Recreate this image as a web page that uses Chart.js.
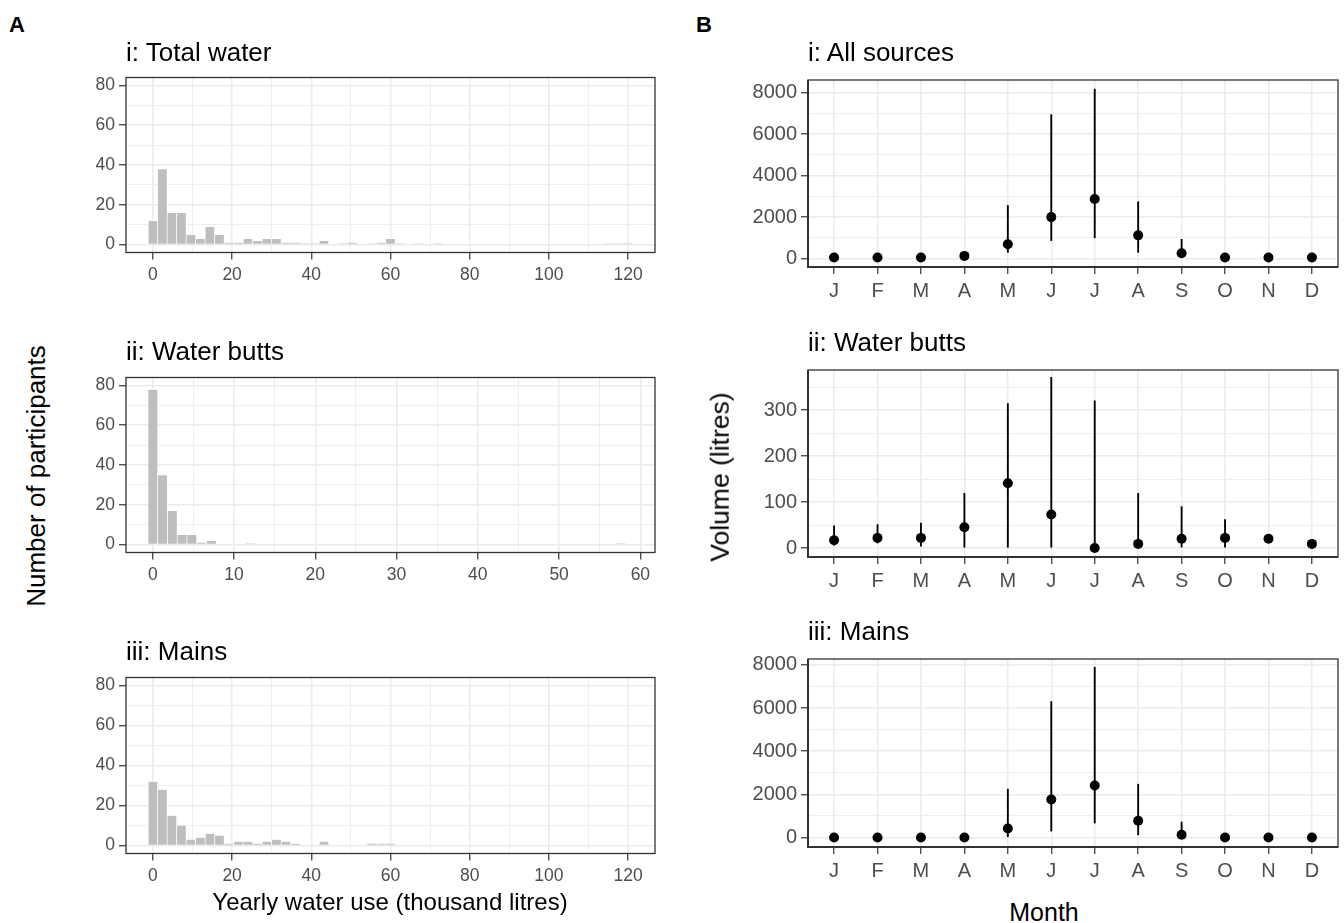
<!DOCTYPE html>
<html>
<head>
<meta charset="utf-8">
<script src="https://cdn.jsdelivr.net/npm/chart.js@4.4.1/dist/chart.umd.min.js"></script>
<style>
    body { margin: 0; background: #fff; font-family: 'Liberation Sans', Arial, sans-serif; }
    #page { position: relative; width: 1344px; height: 923px; overflow: hidden; }
    canvas { position: absolute; }
    .txt { position: absolute; white-space: nowrap; line-height: 1; color: #000; }
    .tag { font-size: 22px; font-weight: bold; }
    .ttl { font-size: 26px; }
</style>
</head>
<body>
<div id="page">
    <canvas id="aTotal" width="605" height="225" style="left:60px;top:67px"></canvas>
    <canvas id="aButts" width="605" height="225" style="left:60px;top:367px"></canvas>
    <canvas id="aMains" width="605" height="225" style="left:60px;top:667px"></canvas>
    <canvas id="bAll" width="616" height="237" style="left:728px;top:70px"></canvas>
    <canvas id="bButts" width="616" height="237" style="left:728px;top:360px"></canvas>
    <canvas id="bMains" width="616" height="237" style="left:728px;top:649px"></canvas>

    <div class="txt tag" style="left:9px;top:14px">A</div>
    <div class="txt tag" style="left:696px;top:14px">B</div>
    <div class="txt ttl" style="left:126px;top:39px">i: Total water</div>
    <div class="txt ttl" style="left:126px;top:338px">ii: Water butts</div>
    <div class="txt ttl" style="left:126px;top:638px">iii: Mains</div>
    <div class="txt ttl" style="left:808px;top:39px">i: All sources</div>
    <div class="txt ttl" style="left:808px;top:329px">ii: Water butts</div>
    <div class="txt ttl" style="left:808px;top:618px">iii: Mains</div>
    <div class="txt" style="font-size:24px;left:390px;top:890px;transform:translateX(-50%)">Yearly water use (thousand litres)</div>
    <div class="txt" style="font-size:26px;left:36px;top:476px;transform:translate(-50%,-50%) rotate(-90deg)">Number of participants</div>
    <div class="txt" style="font-size:26.5px;left:720px;top:477px;transform:translate(-50%,-50%) rotate(-90deg)">Volume (litres)</div>
    <div class="txt" style="font-size:25px;left:1044px;top:900px;transform:translateX(-50%)">Month</div>
</div>
<script>
// Histogram counts per bin (A panels), bins start at 0
const totalBinWidth = 2.4;
const totalCounts = [12, 38, 16, 16, 5, 3, 9, 5, 1, 1, 3, 2, 3, 3, 1, 1, 0.5, 0.5, 2, 0,
    0.5, 1, 0, 0.5, 1, 3, 0.5, 0, 0.5, 0, 0.5, 0, 0, 0, 0, 0, 0, 0, 0, 0,
    0, 0, 0, 0, 0, 0, 0, 0, 0.5, 0.5, 0.5];
const buttsBinWidth = 1.2;
const buttsCounts = [78, 35, 17, 5, 5, 1, 2, 0, 0, 0, 0.5, 0, 0, 0, 0, 0, 0, 0, 0, 0,
    0, 0, 0, 0, 0, 0, 0, 0, 0, 0, 0, 0, 0, 0, 0, 0, 0, 0, 0, 0,
    0, 0, 0, 0, 0, 0, 0, 0, 0.5, 0, 0];
const mainsBinWidth = 2.4;
const mainsCounts = [32, 28, 15, 10, 3, 4, 6, 5, 1, 2, 2, 1, 2, 3, 2, 1, 0, 0, 2, 0,
    0, 0, 0, 1, 1, 1, 0, 0, 0, 0, 0, 0, 0, 0, 0, 0, 0, 0, 0, 0,
    0, 0, 0, 0, 0, 0, 0, 0, 0, 0, 0];

// Monthly volumes (B panels): point plus low/high of the interval
const months = ['J', 'F', 'M', 'A', 'M', 'J', 'J', 'A', 'S', 'O', 'N', 'D'];
const allMid = [50, 50, 50, 130, 690, 2000, 2870, 1120, 260, 50, 50, 50];
const allLow = [10, 10, 10, 40, 300, 870, 1000, 300, 100, 10, 10, 10];
const allHigh = [120, 110, 110, 260, 2560, 6940, 8170, 2740, 930, 110, 110, 110];
const buttsMid = [17, 22, 22, 45, 141, 73, 0, 9, 20, 22, 20, 9];
const buttsLow = [6, 11, 4, 0, 0, 0, 0, 0, 2, 0, 12, 4];
const buttsHigh = [48, 51, 54, 119, 314, 371, 320, 119, 90, 62, 28, 14];
const mainsMid = [0, 0, 0, 0, 420, 1760, 2410, 780, 125, 0, 0, 0];
const mainsLow = [0, 0, 0, 0, 0, 300, 670, 125, 20, 0, 0, 0];
const mainsHigh = [20, 20, 20, 20, 2240, 6300, 7890, 2470, 715, 20, 20, 20];

// Axis tick lists
const histYTicks = [0, 10, 20, 30, 40, 50, 60, 70, 80];
const wideXTicks = [0, 10, 20, 30, 40, 50, 60, 70, 80, 90, 100, 110, 120];
const narrowXTicks = [0, 5, 10, 15, 20, 25, 30, 35, 40, 45, 50, 55, 60];
const litreTicks = [0, 1000, 2000, 3000, 4000, 5000, 6000, 7000, 8000];
const buttLitreTicks = [0, 50, 100, 150, 200, 250, 300, 350];

Chart.defaults.font.family = "'Liberation Sans', Arial, sans-serif";
Chart.defaults.color = '#4D4D4D';
Chart.defaults.animation = false;

// ggplot style panel border (heavier left/bottom axis lines when asked)
function framePlugin(axisWidth) {
    return {
        id: 'frame',
        afterDraw(chart) {
            const a = chart.chartArea;
            const ctx = chart.ctx;
            ctx.save();
            ctx.strokeStyle = '#333333';
            ctx.lineWidth = 1.3;
            ctx.strokeRect(a.left, a.top, a.right - a.left, a.bottom - a.top);
            if (axisWidth) {
                ctx.lineWidth = axisWidth;
                ctx.beginPath();
                ctx.moveTo(a.left, a.top);
                ctx.lineTo(a.left, a.bottom);
                ctx.lineTo(a.right, a.bottom);
                ctx.stroke();
            }
            ctx.restore();
        }
    };
}

// major/minor grid styled axis
function gridAxis(min, max, ticks, majorStep, labelFn, fontSize, fixedSize, horizontal) {
    let isMajor = v => Math.abs(v / majorStep - Math.round(v / majorStep)) < 1e-6;
    return {
        type: 'linear',
        min: min,
        max: max,
        offset: false,
        afterBuildTicks: s => { s.ticks = ticks.map(v => ({ value: v })); },
        afterFit: s => {
            if (horizontal) s.height = fixedSize;
            else s.width = fixedSize;
        },
        border: { display: false },
        grid: {
            offset: false,
            drawTicks: true,
            tickLength: 7,
            color: c => isMajor(c.tick.value) ? '#EBEBEB' : '#EEEEEE',
            lineWidth: c => isMajor(c.tick.value) ? 1.5 : 1,
            tickColor: c => isMajor(c.tick.value) ? '#333333' : 'rgba(0,0,0,0)',
            tickWidth: 1.2
        },
        ticks: {
            autoSkip: false,
            maxRotation: 0,
            padding: horizontal ? 5 : 4,
            font: { size: fontSize },
            color: '#4D4D4D',
            callback: v => isMajor(v) ? labelFn(v) : ''
        }
    };
}

// size and move the canvas so the plot area lands on the given box
function placeChart(chart, left, top, right, bottom) {
    let a = chart.chartArea;
    let w = chart.width + (right - left) - (a.right - a.left);
    let h = chart.height + (bottom - top) - (a.bottom - a.top);
    chart.resize(w, h);
    a = chart.chartArea;
    chart.canvas.style.left = (left - a.left) + 'px';
    chart.canvas.style.top = (top - a.top) + 'px';
}

function histogram(canvasId, counts, binWidth, xMin, xMax, xTicks, xMajor) {
    let points = counts.map((n, i) => ({ x: i * binWidth, y: n }));
    return new Chart(document.getElementById(canvasId), {
        type: 'bar',
        data: {
            datasets: [{
                data: points,
                backgroundColor: '#BEBEBE',
                borderColor: '#FFFFFF',
                borderWidth: 0.7,
                barPercentage: 1,
                categoryPercentage: 1
            }]
        },
        options: {
            responsive: false,
            maintainAspectRatio: false,
            layout: { padding: { top: 10, right: 10, bottom: 0, left: 0 } },
            plugins: { legend: { display: false }, tooltip: { enabled: false } },
            scales: {
                x: gridAxis(xMin, xMax, xTicks, xMajor, v => String(v), 17.5, 40, true),
                y: gridAxis(-4, 84, histYTicks, 20, v => String(v), 17.5, 66, false)
            }
        },
        plugins: [framePlugin(0)]
    });
}

function monthly(canvasId, mid, low, high, yMin, yMax, yTicks, yMajor) {
    return new Chart(document.getElementById(canvasId), {
        type: 'bar',
        data: {
            datasets: [{
                type: 'line',
                data: mid.map((v, i) => ({ x: i, y: v })),
                showLine: false,
                pointRadius: 5,
                pointBackgroundColor: '#000000',
                pointBorderWidth: 0,
                order: 0
            }, {
                data: low.map((v, i) => ({ x: i, y: [v, high[i]] })),
                backgroundColor: '#000000',
                barThickness: 1.2,
                order: 1
            }]
        },
        options: {
            responsive: false,
            maintainAspectRatio: false,
            layout: { padding: { top: 10, right: 6, bottom: 0, left: 0 } },
            plugins: { legend: { display: false }, tooltip: { enabled: false } },
            scales: {
                x: gridAxis(-0.6, 11.6, months.map((m, i) => i), 1, v => months[v], 20, 40, true),
                y: gridAxis(yMin, yMax, yTicks, yMajor, v => String(v), 20, 80, false)
            }
        },
        plugins: [framePlugin(2)]
    });
}

let aTotal = histogram('aTotal', totalCounts, totalBinWidth, -6.8, 126.8, wideXTicks, 20);
let aButts = histogram('aButts', buttsCounts, buttsBinWidth, -3.3, 61.8, narrowXTicks, 10);
let aMains = histogram('aMains', mainsCounts, mainsBinWidth, -6.8, 126.8, wideXTicks, 20);
placeChart(aTotal, 126, 77, 655, 252);
placeChart(aButts, 126, 377, 655, 552);
placeChart(aMains, 126, 677, 655, 853);

let bAll = monthly('bAll', allMid, allLow, allHigh, -405, 8610, litreTicks, 2000);
let bButts = monthly('bButts', buttsMid, buttsLow, buttsHigh, -19.5, 387, buttLitreTicks, 100);
let bMains = monthly('bMains', mainsMid, mainsLow, mainsHigh, -440, 8270, litreTicks, 2000);
placeChart(bAll, 808, 80, 1338, 267);
placeChart(bButts, 808, 370, 1338, 557);
placeChart(bMains, 808, 659, 1338, 847);
</script>
</body>
</html>
